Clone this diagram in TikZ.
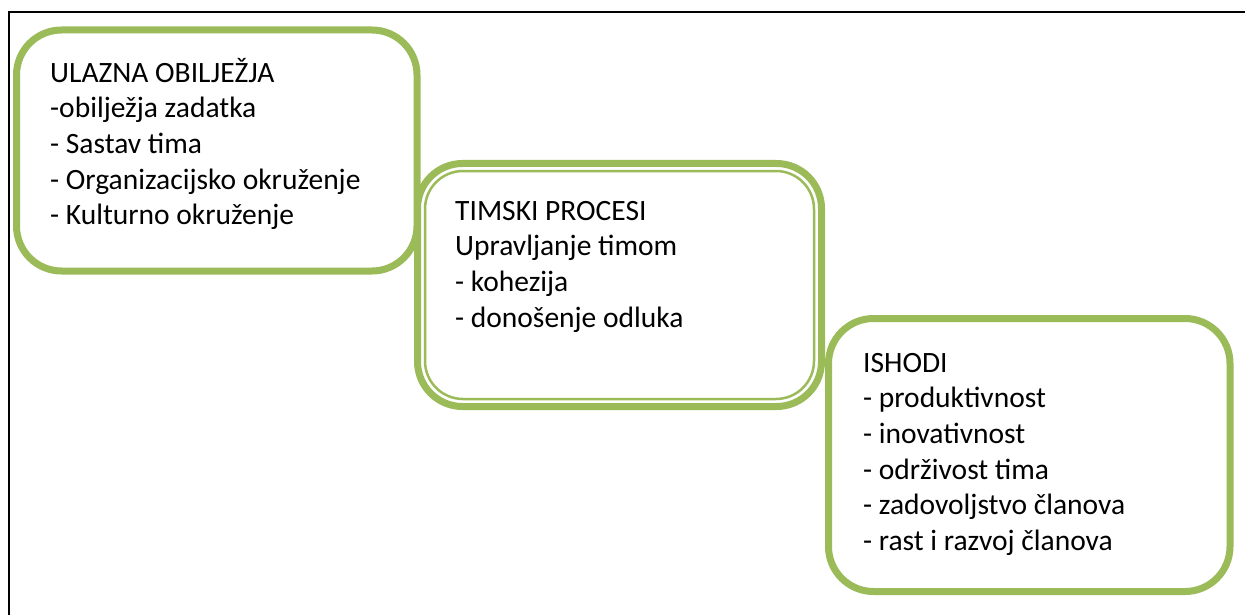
\documentclass[tikz,border=0pt]{standalone}
\usepackage{fontspec}
\setmainfont{Carlito}
\usetikzlibrary{positioning}
\definecolor{olivegreen}{HTML}{9BBB59}

\begin{document}
\begin{tikzpicture}[x=1pt, y=-1pt,
    box/.style={draw=olivegreen, line width=7pt, fill=white, rounded corners=45pt, inner sep=0pt, outer sep=0pt},
    innerline/.style={draw=olivegreen, line width=2.5pt, rounded corners=38pt},
    boxtext/.style={anchor=base west, align=left, inner sep=0pt, font=\fontsize{29.5}{35.7}\selectfont}
]
\useasboundingbox (0,0) rectangle (1245,615);
\clip (0,0) rectangle (1245,615);

% outer frame
\draw[line width=2pt] (9,12) rectangle (1262,632);

% input box
\node[box, minimum width=400.5pt, minimum height=241pt] (ulaz) at (216.75,150.5) {};
\node[boxtext] (ulaztxt) at ([shift={(33.5,194.8)}]ulaz.north west)
    {ULAZNA OBILJEŽJA\\-obilježja zadatka\\- Sastav tima\\- Organizacijsko okruženje\\- Kulturno okruženje};

% process box (double line)
\node[box, minimum width=404pt, minimum height=243pt] (proces) at (619.5,285) {};
\draw[innerline] ([shift={(7.5,7.5)}]proces.north west) rectangle ([shift={(-7.5,-7.5)}]proces.south east);
\node[boxtext] (procestxt) at ([shift={(37.5,163.6)}]proces.north west)
    {TIMSKI PROCESI\\Upravljanje timom\\- kohezija\\- donošenje odluka};

% outcome box
\node[box, minimum width=401.5pt, minimum height=273pt] (ishod) at (1029.25,455) {};
\node[boxtext] (ishodtxt) at ([shift={(34.5,232)}]ishod.north west)
    {ISHODI\\- produktivnost\\- inovativnost\\- održivost tima\\- zadovoljstvo članova\\- rast i razvoj članova};

\end{tikzpicture}
\end{document}
